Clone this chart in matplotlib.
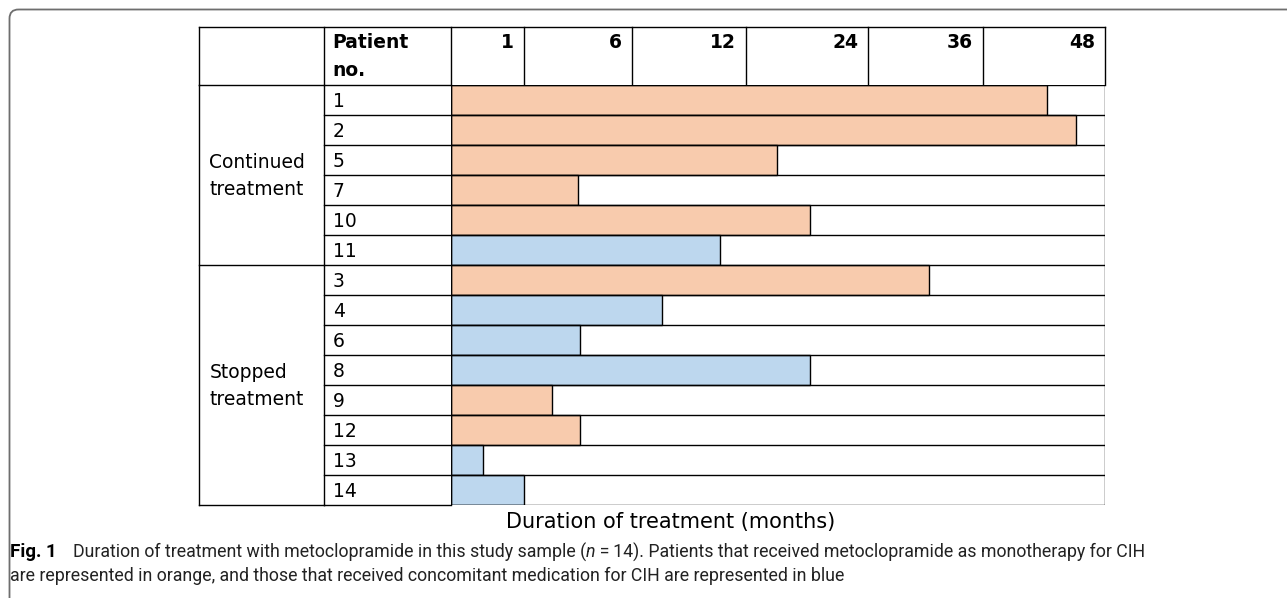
import numpy as np
import matplotlib.pyplot as plt
from matplotlib.patches import FancyBboxPatch

# data
month_ticks = [1, 6, 12, 24, 36, 48]
patients = ['1', '2', '5', '7', '10', '11', '3', '4', '6', '8', '9', '12', '13', '14']
duration = [42.3, 45.1, 15.0, 3.5, 18.3, 10.6, 30.3, 7.6, 3.6, 18.3, 2.3, 3.6, 0.44, 1.0]
concomitant = [0, 0, 0, 0, 0, 1, 0, 1, 1, 1, 0, 0, 1, 1]  # 1 = blue
groups = ['Continued\ntreatment', 'Stopped\ntreatment']
group_sizes = [6, 8]

ORANGE = '#F8CBAD'
BLUE = '#BDD7EE'
W, H = 1287, 598
FONT = 'DejaVu Sans'
FS = 13.5

# layout (pixels)
col_px = [451.3, 524.3, 631.7, 746.3, 868.3, 983.3, 1105.3]
x_grp, x_pat = 199.3, 323.7
y_top, y_head, row_h = 26.7, 85.3, 30.0
y_bot = y_head + row_h * len(patients)

fig = plt.figure(figsize=(W / 100, H / 100), dpi=100)

# overlay axes in pixel coords for the table frame and labels
ov = fig.add_axes([0, 0, 1, 1])
ov.set_xlim(0, W)
ov.set_ylim(H, 0)
ov.axis('off')

# outer rounded frame of the figure panel
ov.add_patch(FancyBboxPatch((9.5, 9.5), W + 20, H + 20,
                            boxstyle='round,pad=0,rounding_size=9',
                            fc='none', ec='#6e6e6e', lw=1.3, clip_on=False))

# data axes: month scale following the header column widths
edges = [0] + month_ticks
fwd = lambda m: np.interp(m, edges, col_px)
inv = lambda p: np.interp(p, col_px, edges)
ax = fig.add_axes([col_px[0] / W, 1 - y_bot / H,
                   (col_px[-1] - col_px[0]) / W, (y_bot - y_head) / H])
ax.set_xscale('function', functions=(fwd, inv))
ax.set_xlim(0, 48)
ax.set_ylim(len(patients), 0)
ax.axis('off')

ypos = np.arange(len(patients)) + 0.5
colors = [BLUE if c else ORANGE for c in concomitant]
ax.barh(ypos, duration, height=1.0, left=0, color=colors,
        edgecolor='black', linewidth=1.0)
for y in range(len(patients) + 1):
    ax.axhline(y, color='black', lw=1.0, zorder=3)
ax.axvline(0, color='black', lw=1.0, zorder=3)
ax.axvline(48, color='black', lw=1.0, zorder=3)

lw = 1.0
# header grid
ov.plot([x_grp, col_px[-1]], [y_top, y_top], color='black', lw=lw)
for x in [x_grp, x_pat] + col_px:
    ov.plot([x, x], [y_top, y_head], color='black', lw=lw)
ov.plot([x_grp, col_px[0]], [y_head, y_head], color='black', lw=lw)
ov.plot([x_grp, x_grp], [y_head, y_bot], color='black', lw=lw)
ov.plot([x_pat, x_pat], [y_head, y_bot], color='black', lw=lw)

# patient rows
for i, p in enumerate(patients):
    y0 = y_head + row_h * (i + 1)
    ov.plot([x_pat, col_px[0]], [y0, y0], color='black', lw=lw)
    ov.text(x_pat + 9, y0 - row_h / 2 + 1, p, ha='left', va='center',
            fontsize=FS, family=FONT)

# group labels
start = 0
for g, n in zip(groups, group_sizes):
    y_end = y_head + row_h * (start + n)
    ov.plot([x_grp, x_pat], [y_end, y_end], color='black', lw=lw)
    yc = y_head + row_h * (start + n / 2)
    ov.text(x_grp + 10, yc + 1, g, ha='left', va='center', fontsize=FS,
            family=FONT, linespacing=1.55)
    start += n

# header labels
ov.text(x_pat + 9, 56, 'Patient\nno.', ha='left', va='center', fontsize=FS,
        family=FONT, fontweight='bold', linespacing=1.6)
for m, x in zip(month_ticks, col_px[1:]):
    ov.text(x - 10, 42, str(m), ha='right', va='center', fontsize=FS,
            family=FONT, fontweight='bold')

ov.text(671, 522, 'Duration of treatment (months)', ha='center', va='center',
        fontsize=15, family=FONT)

# caption
cap = dict(fontsize=12.8, family=['Roboto', 'DejaVu Sans'], va='center', ha='left')
plain = dict(color='#222222')
y1, y2 = 552, 576
r = fig.canvas.get_renderer()
ov.text(10, y1, 'Fig. 1', fontweight='bold', color='black',
        **{**cap, 'fontsize': 13.5})
x = 73
for s, kw in [('Duration of treatment with metoclopramide in this study sample (', plain),
              ('n', dict(style='italic', color='#222222')),
              ('\u2009=\u200914). Patients that received metoclopramide as monotherapy for CIH',
               plain)]:
    t = ov.text(x, y1, s, **cap, **kw)
    fig.canvas.draw()
    x = t.get_window_extent(r).x1
ov.text(10, y2, 'are represented in orange, and those that received concomitant '
        'medication for CIH are represented in blue', **cap, **plain)

fig.savefig('out.png', dpi=100)
